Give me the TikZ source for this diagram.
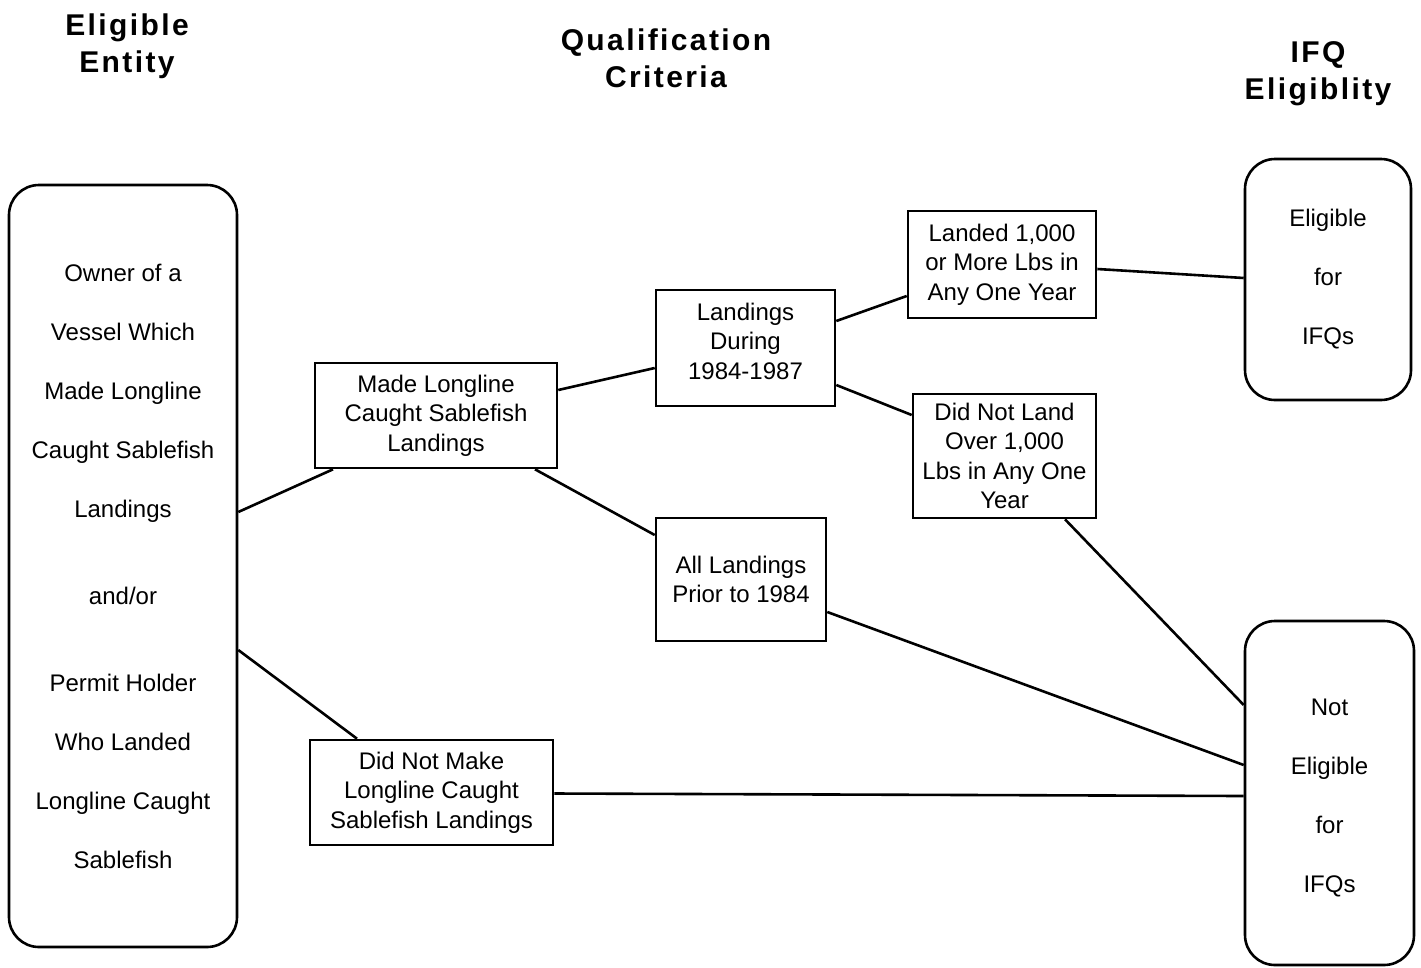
\documentclass[tikz,border=0pt]{standalone}
\usepackage{fontspec}
\setmainfont{Liberation Sans}
\begin{document}
\begin{tikzpicture}[x=1pt,y=-1pt,
  box/.style={draw, line width=2.6pt, inner sep=0pt, align=center, font=\fontsize{24}{29.5}\selectfont},
  rbox/.style={draw, line width=2.6pt, inner sep=0pt, align=center, rounded corners=30pt, font=\fontsize{24}{59}\selectfont},
  head/.style={align=center, font=\fontsize{30}{37}\selectfont\bfseries\addfontfeature{LetterSpace=8}},
  conn/.style={line width=2.6pt}]
\useasboundingbox (0,0) rectangle (1421,967);

\node[head] (h1) at (127,46.5) {Eligible\\Entity};
\node[head] (h2) at (666,58) {Qualification\\Criteria};
\node[head] (h3) at (1318,74) {IFQ\\Eligiblity};

\node[rbox, minimum width=228pt, minimum height=762pt] (left) at (123,566)
  {Owner of a\\Vessel Which\\Made Longline\\Caught Sablefish\\Landings\\[28pt]and/or\\[28pt]Permit Holder\\Who Landed\\Longline Caught\\Sablefish};
\node[rbox, minimum width=166pt, minimum height=241pt] (elig) at (1328,279.5)
  {Eligible\\for\\IFQs};
\node[rbox, minimum width=169pt, minimum height=344pt,
  label={[align=center, font=\fontsize{24}{59}\selectfont, yshift=-5pt]center:{Not\\Eligible\\for\\IFQs}}] (notelig) at (1329.5,793) {};

\node[box, minimum width=242pt, minimum height=105pt] (made) at (436,415.5)
  {Made Longline\\Caught Sablefish\\Landings};
\node[box, minimum width=243pt, minimum height=105pt] (notmade) at (431.5,792.5)
  {Did Not Make\\Longline Caught\\Sablefish Landings};
\node[box, minimum width=179pt, minimum height=116pt,
  label={[align=center, font=\fontsize{24}{29.5}\selectfont, yshift=7pt]center:{Landings\\During\\1984-1987}}] (during) at (745.5,348) {};
\node[box, minimum width=170pt, minimum height=123pt] (prior) at (741,579.5)
  {All Landings\\Prior to 1984};
\node[box, minimum width=188pt, minimum height=107pt] (landed) at (1002,264.5)
  {Landed 1,000\\or More Lbs in\\Any One Year};
\node[box, minimum width=183pt, minimum height=124pt] (notland) at (1004.5,456)
  {Did Not Land\\Over 1,000\\Lbs in Any One\\Year};

\draw[conn] ([yshift=54pt]left.east) -- ([xshift=-103pt]made.south);
\draw[conn] ([yshift=-84pt]left.east) -- ([xshift=-74.5pt]notmade.north);
\draw[conn] ([yshift=25.5pt]made.east) -- ([yshift=-20pt]during.west);
\draw[conn] ([xshift=99pt]made.south) -- ([yshift=44.5pt]prior.west);
\draw[conn] ([yshift=27pt]during.east) -- ([yshift=-31.5pt]landed.west);
\draw[conn] ([yshift=-37pt]during.east) -- ([yshift=41pt]notland.west);
\draw[conn] ([yshift=-4.5pt]landed.east) -- ([yshift=1.5pt]elig.west);
\draw[conn] ([xshift=60.5pt]notland.south) -- ([yshift=88pt]notelig.west);
\draw[conn] ([yshift=-32.5pt]prior.east) -- ([yshift=28pt]notelig.west);
\draw[conn] ([yshift=-1pt]notmade.east) -- ([yshift=-3pt]notelig.west);
\end{tikzpicture}
\end{document}
